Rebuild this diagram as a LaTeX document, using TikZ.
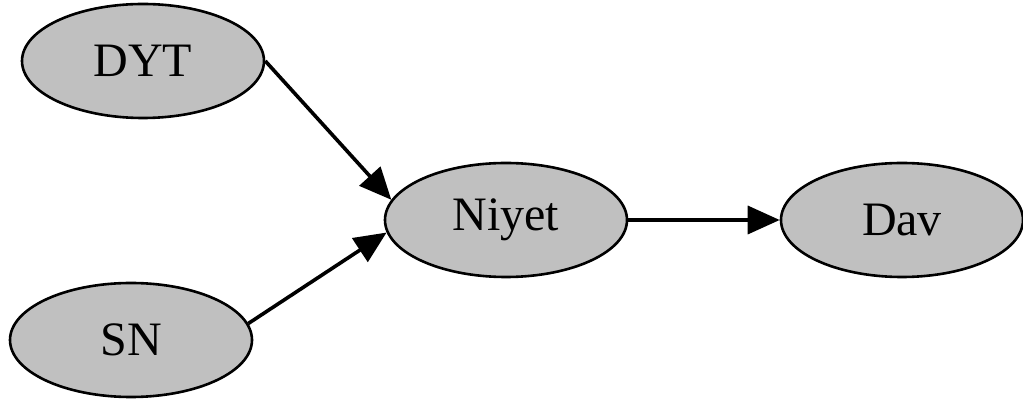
\documentclass[tikz,border=0pt]{standalone}
\usepackage{fontspec}
\setmainfont{Liberation Serif}
\usetikzlibrary{shapes.geometric,arrows.meta}
\begin{document}
\begin{tikzpicture}[x=0.5pt,y=-0.5pt,
  state/.style={ellipse, draw=black, line width=1.3pt, fill={rgb,255:red,192;green,192;blue,192},
    minimum width=121pt, minimum height=57pt, inner sep=0pt,
    font=\fontsize{24}{27}\selectfont},
  link/.style={line width=1.8pt, -{Triangle[length=16pt,width=14pt]}}]
\useasboundingbox (0,0) rectangle (1023,405);
\node[state] (dyt) at (143,61) {DYT};
\node[state] (sn) at (131,340) {SN};
\node[state] (niyet) at (506,220) {Niyet};
\node[state] (dav) at (902,220) {Dav};
\draw[link] (dyt.east) -- (niyet.170);
\draw[link] (sn.8) -- (niyet.186);
\draw[link] (niyet.east) -- (dav.west);
\end{tikzpicture}
\end{document}
